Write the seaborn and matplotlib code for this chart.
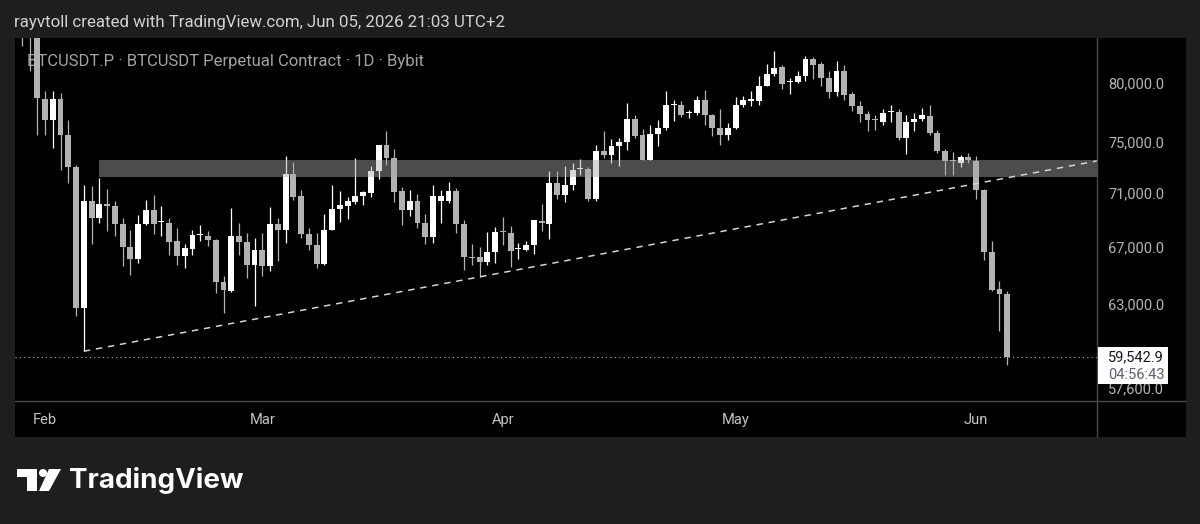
import numpy as np
import matplotlib
matplotlib.use("Agg")
import matplotlib.pyplot as plt
import matplotlib.dates as mdates
from matplotlib.patches import Rectangle, Polygon, Ellipse
from matplotlib.lines import Line2D
from matplotlib.ticker import FixedLocator, NullLocator
import seaborn as sns
import pandas as pd

# daily candles BTCUSDT.P (Bybit)
dates = pd.date_range("2026-01-29", "2026-06-05", freq="D")
opens = [88500, 87000, 84300,
         78610, 76790, 78610, 75620, 73060, 62740, 70430, 69130, 70210, 70000,
         68710, 66980, 66140, 68690, 69700, 68800, 68760, 67420, 66340, 66890,
         67880, 67830, 67510, 64530, 63930, 67830, 67340, 65740,
         66820, 65630, 68690, 68220, 72510, 70760, 67950, 67130, 65790, 68270,
         69800, 70060, 70330, 70760, 71040, 72690, 74750, 73740, 71140, 69760,
         70380, 68760, 67710, 70430, 70380, 71200, 68680, 66310, 66270, 65910, 66640,
         68100, 68000, 66830, 66790, 67180, 68880, 68680, 71780, 70890, 71660,
         72860, 72900, 70560, 74270, 74010, 74670, 75020, 76900, 75560, 73610,
         75670, 76160, 78070, 78100, 77410, 77440, 78530, 77270, 76160, 75620,
         76160, 78050, 78440, 78380, 79720, 80720, 81300, 80000, 80030, 80520,
         82050, 81590, 80370, 79150, 80950, 79000, 78020, 77320, 76830, 76650,
         77460, 77490, 75350, 76630, 76900, 77180, 75780, 74330, 73530, 73320, 73800,
         73530, 71270, 66620, 64040, 63730]
highs = [89200, 87600, 84800,
         79230, 79230, 79085, 76850, 73160, 71660, 71530, 72170, 71320, 70430,
         69130, 68270, 69380, 70460, 70840, 70000, 69130, 68350, 67250, 68220,
         68590, 68150, 67560, 64920, 69880, 68760, 68020, 67660,
         68020, 69950, 69130, 73880, 73420, 71270, 68390, 68020, 69430, 71660,
         71200, 70690, 73740, 71200, 73080, 74780, 75950, 74490, 71480, 71270,
         70970, 69430, 71660, 71270, 71860, 71400, 69010, 67250, 67010, 68070, 68460,
         69200, 68520, 67290, 67420, 69010, 70210, 72690, 72750, 73080, 73350,
         73690, 73000, 74750, 75890, 75290, 75350, 78240, 77270, 76080, 76440,
         76790, 79290, 78530, 78380, 77690, 78870, 79310, 77320, 77770, 76570,
         78750, 78800, 79290, 80580, 81630, 82710, 81540, 80370, 80950, 82340,
         82250, 81770, 81000, 81890, 81540, 79150, 78440, 77600, 77270, 77740,
         78050, 77740, 77210, 77400, 77820, 78050, 76030, 74490, 74190, 74010, 74140,
         73930, 71300, 67420, 64620, 63880]
lows = [83160, 80950, 75620,
        75620, 74540, 72820, 71780, 62190, 59890, 67250, 68760, 68150, 67780,
        65630, 65040, 65860, 68640, 67950, 67780, 66460, 65700, 65510, 66460,
        67420, 67060, 63770, 62410, 63830, 66460, 64800, 62910,
        64920, 65270, 65980, 67290, 70510, 67660, 66820, 65510, 65740, 68220,
        68810, 69060, 70210, 70130, 70710, 72120, 73220, 70330, 68640, 69260,
        68390, 67220, 67290, 68760, 70250, 68020, 65390, 65740, 64850, 65700, 65860,
        67130, 65600, 66140, 66690, 66500, 68150, 67580, 70590, 70330, 71270,
        72380, 70380, 70430, 73740, 73350, 73140, 74410, 75350, 73560, 73560,
        74670, 76030, 76770, 77070, 76990, 77270, 76380, 75480, 74810, 75210,
        76100, 77900, 77960, 78050, 79660, 80580, 79430, 79000, 79940, 80090,
        80320, 79720, 78660, 78800, 78530, 77540, 76650, 75950, 76030, 76380,
        76650, 75210, 74090, 75950, 76710, 75560, 74140, 72430, 72380, 73030, 73320,
        70590, 66100, 63930, 61240, 59030]
closes = [87000, 84300, 78630,
          76790, 78610, 75620, 73000, 62740, 70430, 69130, 70210, 70000, 68710,
          66980, 66140, 68710, 69700, 68710, 68840, 67340, 66340, 66930, 67900,
          67920, 67510, 64530, 63950, 67830, 67370, 65740, 66820,
          65630, 68710, 68220, 72510, 70710, 67950, 67130, 65790, 68270, 69800,
          70080, 70380, 70760, 71090, 72690, 74780, 73740, 71090, 69760, 70380,
          68760, 67710, 70760, 70760, 71200, 68680, 66270, 66220, 65910, 66640, 68100,
          68060, 66750, 66860, 67180, 68960, 68760, 71780, 70890, 71660, 72830,
          72910, 70560, 74270, 74010, 74670, 75020, 76900, 75540, 73610, 75670,
          76160, 78050, 78100, 77270, 77440, 78530, 77270, 76160, 75620, 76160,
          78100, 78530, 78470, 79720, 80750, 81240, 79860, 80030, 80520, 82050,
          81540, 80370, 79150, 80950, 78950, 77960, 77320, 76790, 76790, 77400,
          77490, 75350, 76630, 76930, 77210, 75750, 74270, 73480, 73480, 73800, 73580,
          71270, 66620, 64000, 63730, 59542.9]

# drawings
zone_start = "2026-02-08"
zone_low, zone_high = 72250, 73560
trend_a = ("2026-02-06", 59890)
trend_b = ("2026-03-29", 64880)
last_price = 59542.9
countdown = "04:56:43"

# 60,000.0 sits under the last-price badge in the snapshot, so only these show
price_ticks = [80000, 75000, 71000, 67000, 63000, 57600]
month_ticks = ["2026-02-01", "2026-03-01", "2026-04-01", "2026-05-01", "2026-06-01"]
month_labels = ["Feb", "Mar", "Apr", "May", "Jun"]

header = "rayvtoll created with TradingView.com, Jun 05, 2026 21:03 UTC+2"
legend = "BTCUSDT.P \u00b7 BTCUSDT Perpetual Contract \u00b7 1D \u00b7 Bybit"

UP = "#ffffff"
DOWN = "#b2b2b2"
BG = "#1e1e1e"
SEP = "#4a4a4a"

sns.set_theme(style="dark")
plt.rcParams["font.family"] = ["Roboto", "DejaVu Sans"]

W, H = 1200, 524
fig = plt.figure(figsize=(W / 100, H / 100), dpi=100)
fig.patch.set_facecolor(BG)


def fx(px):
    return px / W


def fy(py):
    return 1 - py / H


# black chart panel (plot + price scale + time scale)
fig.patches.append(Rectangle((fx(15), fy(437)), (1186 - 15) / W, (437 - 38) / H,
                             transform=fig.transFigure, facecolor="black",
                             edgecolor="none", zorder=-5))

ax = fig.add_axes([fx(15), fy(401), (1097 - 15) / W, (401 - 38) / H])
ax.set_zorder(1)
ax.set_facecolor("black")
for s in ax.spines.values():
    s.set_visible(False)

x = mdates.date2num(dates)
o = np.array(opens, float)
h = np.array(highs, float)
l = np.array(lows, float)
c = np.array(closes, float)
colors = np.where(c >= o, UP, DOWN)

feb1 = mdates.date2num(pd.Timestamp("2026-02-01"))
ax.set_xlim(feb1 - 3.87, feb1 + 135.57)
ax.set_yscale("log")
ax.set_ylim(56766, 83908)

# candles
ax.vlines(x, l, h, colors=colors, lw=0.9, zorder=3)
body_lo = np.minimum(o, c)
body_h = np.maximum(np.abs(c - o), body_lo * 0.0013)
ax.bar(x, body_h, bottom=body_lo, width=0.76, color=colors, lw=0, zorder=3)

# support / resistance zone
xr = ax.get_xlim()[1]
ax.fill_between([mdates.date2num(pd.Timestamp(zone_start)), xr], zone_low, zone_high,
                color="#a9a9a9", alpha=0.45, lw=0, zorder=4)

# rising trendline, extended to the right edge
ta = mdates.date2num(pd.Timestamp(trend_a[0]))
tb = mdates.date2num(pd.Timestamp(trend_b[0]))
slope = (np.log(trend_b[1]) - np.log(trend_a[1])) / (tb - ta)
p_end = np.exp(np.log(trend_a[1]) + slope * (xr - ta))
ax.plot([ta, xr], [trend_a[1], p_end], color="#d4d4d4", lw=1.1,
        dashes=(4.2, 3.8), zorder=5)

# last price line
ax.axhline(last_price, color="#b8b8b8", lw=0.75, linestyle=(0, (1, 3.2)), zorder=2)

# symbol legend (behind candles)
ax.text((27 - 15) / 1082, 1 - (61 - 38) / 363, legend, transform=ax.transAxes,
        fontsize=12, color="#a3a3a3", va="center", ha="left", zorder=1)

# price scale
ax.yaxis.tick_right()
ax.yaxis.set_major_locator(FixedLocator(price_ticks))
ax.yaxis.set_minor_locator(NullLocator())
ax.set_yticklabels([f"{p:,.1f}" for p in price_ticks])
ax.tick_params(axis="y", length=0, pad=8, labelsize=10.5, labelcolor="#b4b4b4")

# time scale
ax.set_xticks([mdates.date2num(pd.Timestamp(d)) for d in month_ticks])
ax.set_xticklabels(month_labels)
ax.tick_params(axis="x", length=0, pad=8.5, labelsize=10.5, labelcolor="#c4c4c4")
ax.grid(False)

# scale separators
fig.add_artist(Line2D([fx(1097), fx(1097)], [fy(38), fy(437)], color=SEP, lw=1,
                      transform=fig.transFigure, zorder=2))
fig.add_artist(Line2D([fx(15), fx(1186)], [fy(401), fy(401)], color=SEP, lw=1,
                      transform=fig.transFigure, zorder=2))

# last price badge
y_disp = ax.transData.transform((xr, last_price))[1]
y_top = H - y_disp  # pixel from top
fig.patches.append(Rectangle((fx(1098), fy(y_top + 27)), 70 / W, 37 / H,
                             transform=fig.transFigure, facecolor="white",
                             edgecolor="none", zorder=5))
fig.text(fx(1108), fy(y_top + 1), f"{last_price:,.1f}", fontsize=10.5, color="#131722",
         va="center", ha="left", zorder=6)
fig.text(fx(1108), fy(y_top + 18), countdown, fontsize=10.5, color="#5d606b",
         va="center", ha="left", zorder=6)

# header
fig.text(fx(14), fy(22), header, fontsize=12.2, color="#d1d1d1", va="center", ha="left")

# TradingView logo
fig.patches.append(Polygon([(fx(17), fy(469)), (fx(37), fy(469)), (fx(37), fy(491)),
                            (fx(27), fy(491)), (fx(27), fy(477)), (fx(17), fy(477))],
                           closed=True, transform=fig.transFigure, facecolor="white",
                           edgecolor="none"))
fig.patches.append(Ellipse((fx(43), fy(473)), 8 / W, 8 / H, transform=fig.transFigure,
                           facecolor="white", edgecolor="none"))
fig.patches.append(Polygon([(fx(49), fy(469)), (fx(61), fy(469)), (fx(49), fy(491)),
                            (fx(39), fy(491))],
                           closed=True, transform=fig.transFigure, facecolor="white",
                           edgecolor="none"))
fig.text(fx(69), fy(481), "TradingView", fontsize=20, fontweight="bold",
         family=["Inter", "DejaVu Sans"], color="white", va="center", ha="left")

fig.savefig("out.png", dpi=100, facecolor=BG)
